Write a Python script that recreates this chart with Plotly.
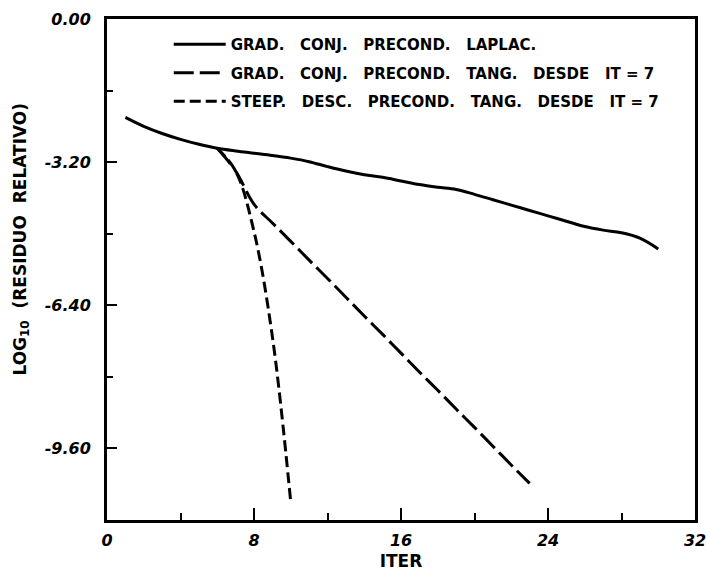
import plotly.graph_objects as go

# ---- data ----
iter_laplac = list(range(1, 31))
res_laplac = [-2.20, -2.40, -2.56, -2.69, -2.80, -2.89, -2.95, -3.00, -3.05, -3.11,
              -3.19, -3.30, -3.40, -3.48, -3.54, -3.62, -3.70, -3.76, -3.81, -3.92,
              -4.04, -4.16, -4.28, -4.40, -4.52, -4.64, -4.72, -4.78, -4.90, -5.14]

iter_gc_tang = list(range(6, 24))
res_gc_tang = [-2.89, -3.40, -4.14, -4.56, -4.97, -5.39, -5.80, -6.22, -6.64, -7.05,
               -7.47, -7.89, -8.30, -8.72, -9.13, -9.55, -9.97, -10.38]

iter_sd_tang = [6, 7, 8, 9, 10]
res_sd_tang = [-2.89, -3.40, -4.75, -7.10, -10.80]

names = ["GRAD.   CONJ.   PRECOND.   LAPLAC.",
         "GRAD.   CONJ.   PRECOND.   TANG.   DESDE   IT = 7",
         "STEEP.   DESC.   PRECOND.   TANG.   DESDE   IT = 7"]

x_tickvals = [0, 8, 16, 24, 32]
x_ticktext = ["0", "8", "16", "24", "32"]
x_minor = [4, 12, 20, 28]
y_tickvals = [0.0, -3.2, -6.4, -9.6]
y_ticktext = ["0.00", "-3.20", "-6.40", "-9.60"]
y_minor = [-1.6, -4.8, -8.0]

x_title = "ITER"
y_title = "LOG<sub>10</sub>  (RESIDUO  RELATIVO)"

fig = go.Figure()
fig.add_trace(go.Scatter(x=iter_laplac, y=res_laplac, mode="lines", name=names[0],
                         legendgroup="a", line=dict(color="black", width=3, shape="spline")))
fig.add_trace(go.Scatter(x=iter_gc_tang, y=res_gc_tang, mode="lines", name=names[1],
                         legendgroup="b", line=dict(color="black", width=3, shape="spline",
                                                    dash="20px,6px")))
fig.add_trace(go.Scatter(x=iter_sd_tang, y=res_sd_tang, mode="lines", name=names[2],
                         legendgroup="c", line=dict(color="black", width=3, shape="spline",
                                                    dash="11px,5px")))

tickfont = dict(family="DejaVu Sans", size=16, color="black", weight="bold", style="italic")
titlefont = dict(family="DejaVu Sans", size=17, color="black", weight="bold")

fig.update_layout(
    width=706, height=572,
    margin=dict(l=107, r=11, t=19, b=52),
    paper_bgcolor="white", plot_bgcolor="white",
    showlegend=True,
    legend=dict(x=0.105, y=0.982, xanchor="left", yanchor="top",
                bgcolor="rgba(0,0,0,0)", borderwidth=0,
                font=dict(family="DejaVu Sans", size=15, color="black", weight="bold"),
                itemwidth=52, tracegroupgap=6, traceorder="grouped"),
    xaxis=dict(range=[0, 32], tickmode="array", tickvals=x_tickvals, ticktext=x_ticktext,
               ticks="inside", ticklen=12, tickwidth=2, tickcolor="black",
               minor=dict(tickmode="array", tickvals=x_minor, ticks="inside", ticklen=7,
                          tickwidth=2, tickcolor="black", showgrid=False),
               showline=True, linecolor="black", linewidth=3, mirror=True,
               showgrid=False, zeroline=False, tickfont=tickfont, ticklabelstandoff=4,
               automargin=False, ticklabeloverflow="allow",
               title=dict(text=x_title, font=titlefont, standoff=6)),
    yaxis=dict(range=[-11.2, 0], tickmode="array", tickvals=y_tickvals, ticktext=y_ticktext,
               ticks="inside", ticklen=10, tickwidth=2, tickcolor="black",
               minor=dict(tickmode="array", tickvals=y_minor, ticks="inside", ticklen=6,
                          tickwidth=2, tickcolor="black", showgrid=False),
               showline=True, linecolor="black", linewidth=3, mirror=True,
               showgrid=False, zeroline=False, tickfont=tickfont, ticklabelstandoff=10,
               automargin=False, ticklabeloverflow="allow"),
    annotations=[dict(text=y_title, xref="paper", yref="paper", x=-0.146, y=0.56,
                      xanchor="center", yanchor="middle", textangle=-90,
                      showarrow=False, font=titlefont)],
)

fig.write_html("out.html")
